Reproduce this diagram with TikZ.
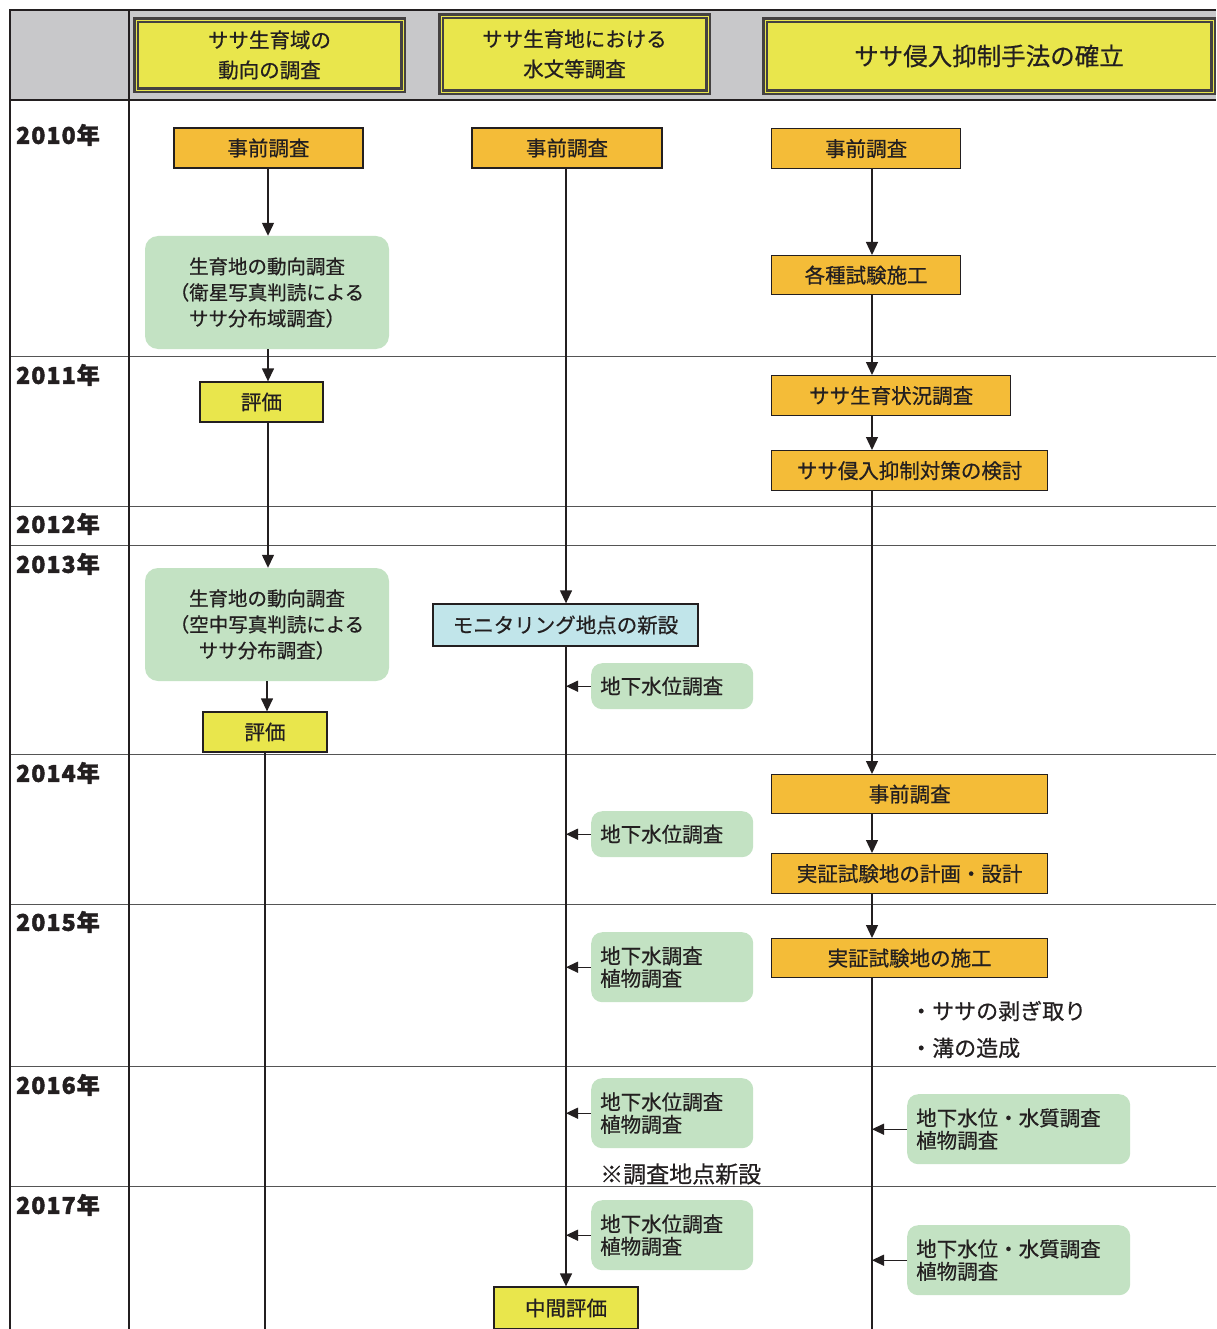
\documentclass[tikz,border=0pt]{standalone}
\usepackage{fontspec}
\setmainfont{Noto Sans CJK JP}[FakeBold=0.6, BoldFeatures={FakeBold=1.9}]
\usetikzlibrary{arrows.meta}
\definecolor{ink}{HTML}{231F20}
\definecolor{hdrgray}{HTML}{C8C8CA}
\definecolor{orng}{HTML}{F4BC38}
\definecolor{ylw}{HTML}{E9E64C}
\definecolor{grn}{HTML}{C3E2C3}
\definecolor{lblue}{HTML}{C1E5EA}
\definecolor{gridc}{HTML}{555555}
\tikzset{
  box/.style={draw=ink, line width=1.3pt, inner sep=0pt, text=ink, font=\fontsize{20.5}{22}\selectfont},
  obox/.style={box, fill=orng},
  ybox/.style={box, fill=ylw},
  bbox/.style={box, fill=lblue},
  gbox/.style={fill=grn, rounded corners=13pt, inner sep=0pt, text=ink, font=\fontsize{19.5}{26}\selectfont, align=center},
  gboxl/.style={fill=grn, rounded corners=11pt, inner xsep=9pt, inner ysep=8pt, text=ink, font=\fontsize{20.5}{22.5}\selectfont, align=left, text width=#1},
  hbox/.style={draw=ink!85, line width=2.4pt, fill=ylw, double=ylw, inner sep=0pt, text=ink, align=center},
  arr/.style={draw=ink, line width=1.3pt, -{Triangle[length=13pt,width=12pt]}},
  sarr/.style={draw=ink, line width=1.3pt, -{Triangle[length=12pt,width=11pt]}},
  vline/.style={draw=ink, line width=1.3pt},
  grid/.style={draw=gridc, line width=1pt},
  frame/.style={draw=ink, line width=2pt},
  year/.style={anchor=west, text=ink, font=\fontsize{23}{24}\selectfont\bfseries\addfontfeature{LetterSpace=5}, inner sep=0pt},
  note/.style={anchor=west, text=ink, font=\fontsize{22}{24}\selectfont, inner sep=0pt}
}
\begin{document}
\begin{tikzpicture}[x=1pt,y=-1pt]
\useasboundingbox (0,0) rectangle (1216,1329);
% header band
\fill[hdrgray] (10,10) rectangle (1216,100);
% grid lines
\foreach \yy in {356,506,545,754,904,1066,1186}{\draw[grid] (10,\yy) -- (1216,\yy);}
% frame
\draw[frame] (1216,10) -- (10,10) -- (10,1329);
\draw[frame] (129,10) -- (129,1329);
\draw[frame] (10,100) -- (1216,100);
% header boxes
\node[hbox, minimum width=267pt, minimum height=70pt, font=\fontsize{20.5}{30}\selectfont] (h1) at (269.5,55) {ササ生育域の\\動向の調査};
\node[hbox, minimum width=267pt, minimum height=76pt, font=\fontsize{20.5}{30}\selectfont] (h2) at (574.5,54) {ササ生育地における\\水文等調査};
\node[hbox, minimum width=448pt, minimum height=72pt, font=\fontsize{24.5}{28}\selectfont] (h3) at (989,56) {ササ侵入抑制手法の確立};
% years
\node[year] (y10) at (16,135) {2010年};
\node[year] (y11) at (16,375) {2011年};
\node[year] (y12) at (16,524) {2012年};
\node[year] (y13) at (16,564) {2013年};
\node[year] (y14) at (16,773) {2014年};
\node[year] (y15) at (16,922) {2015年};
\node[year] (y16) at (16,1085) {2016年};
\node[year] (y17) at (16,1205) {2017年};
% column 1
\node[obox, minimum width=189pt, minimum height=40pt] (a1) at (268.5,148) {事前調査};
\node[gbox, minimum width=244pt, minimum height=113pt] (a2) at (267,292.5) {生育地の動向調査\\（衛星写真判読による\\ササ分布域調査）};
\node[ybox, minimum width=123pt, minimum height=40pt] (a3) at (261.5,402) {評価};
\node[gbox, minimum width=244pt, minimum height=113pt] (a4) at (267,624.5) {生育地の動向調査\\（空中写真判読による\\ササ分布調査）};
\node[ybox, minimum width=124pt, minimum height=40pt] (a5) at (265,732) {評価};
\coordinate (a6) at (265,1329);
\draw[arr] (a1.south -| 268,0) -- (a2.north -| 268,0);
\draw[arr] (a2.south -| 268,0) -- (a3.north -| 268,0);
\draw[arr] (a3.south -| 268,0) -- (a4.north -| 268,0);
\draw[arr] (a4.south -| 267,0) -- (a5.north -| 267,0);
\draw[vline] (a5.south) -- (a6);
% column 2
\node[obox, minimum width=190pt, minimum height=40pt] (b1) at (567,148) {事前調査};
\node[bbox, minimum width=265pt, minimum height=42pt] (b2) at (565.5,625) {モニタリング地点の新設};
\node[ybox, minimum width=144pt, minimum height=42pt] (b3) at (566,1308) {中間評価};
\node[gboxl=144pt, minimum height=46pt, anchor=north west] (g1) at (591,663) {地下水位調査};
\node[gboxl=144pt, minimum height=46pt, anchor=north west] (g2) at (591,811) {地下水位調査};
\node[gboxl=144pt, minimum height=70pt, anchor=north west] (g3) at (591,932) {地下水調査\\植物調査};
\node[gboxl=144pt, minimum height=70pt, anchor=north west] (g4) at (591,1078) {地下水位調査\\植物調査};
\node[gboxl=144pt, minimum height=70pt, anchor=north west] (g5) at (591,1200) {地下水位調査\\植物調査};
\node[note, font=\fontsize{23}{24}\selectfont] (n1) at (600,1174) {※調査地点新設};
\draw[arr] (b1.south -| 566,0) -- (b2.north -| 566,0);
\draw[arr] (b2.south -| 566,0) -- (b3.north -| 566,0);
\draw[sarr] (g1.west) -- (g1.west -| 566,0);
\draw[sarr] (g2.west) -- (g2.west -| 566,0);
\draw[sarr] (g3.west) -- (g3.west -| 566,0);
\draw[sarr] (g4.west) -- (g4.west -| 566,0);
\draw[sarr] (g5.west) -- (g5.west -| 566,0);
% column 3
\node[obox, minimum width=189pt, minimum height=40pt, anchor=north west] (c1) at (771,128) {事前調査};
\node[obox, minimum width=189pt, minimum height=39pt, anchor=north west] (c2) at (771,255) {各種試験施工};
\node[obox, minimum width=239pt, minimum height=40pt, anchor=north west] (c3) at (771,375) {ササ生育状況調査};
\node[obox, minimum width=276pt, minimum height=40pt, anchor=north west] (c4) at (771,450) {ササ侵入抑制対策の検討};
\node[obox, minimum width=276pt, minimum height=39pt, anchor=north west] (c5) at (771,774) {事前調査};
\node[obox, minimum width=276pt, minimum height=40pt, anchor=north west] (c6) at (771,853) {実証試験地の計画・設計};
\node[obox, minimum width=276pt, minimum height=39pt, anchor=north west] (c7) at (771,938) {実証試験地の施工};
\node[note] (n2) at (910,1011) {・ササの剥ぎ取り};
\node[note] (n3) at (910,1048) {・溝の造成};
\node[gboxl=205pt, minimum height=70pt, anchor=north west] (k1) at (907,1094) {地下水位・水質調査\\植物調査};
\node[gboxl=205pt, minimum height=70pt, anchor=north west] (k2) at (907,1225) {地下水位・水質調査\\植物調査};
\coordinate (c8) at (872,1329);
\draw[arr] (c1.south -| 872,0) -- (c2.north -| 872,0);
\draw[arr] (c2.south -| 872,0) -- (c3.north -| 872,0);
\draw[arr] (c3.south -| 872,0) -- (c4.north -| 872,0);
\draw[arr] (c4.south -| 872,0) -- (c5.north -| 872,0);
\draw[arr] (c5.south -| 872,0) -- (c6.north -| 872,0);
\draw[arr] (c6.south -| 872,0) -- (c7.north -| 872,0);
\draw[vline] (c7.south -| 872,0) -- (c8);
\draw[sarr] (k1.west) -- (k1.west -| 872,0);
\draw[sarr] (k2.west) -- (k2.west -| 872,0);
\end{tikzpicture}
\end{document}
